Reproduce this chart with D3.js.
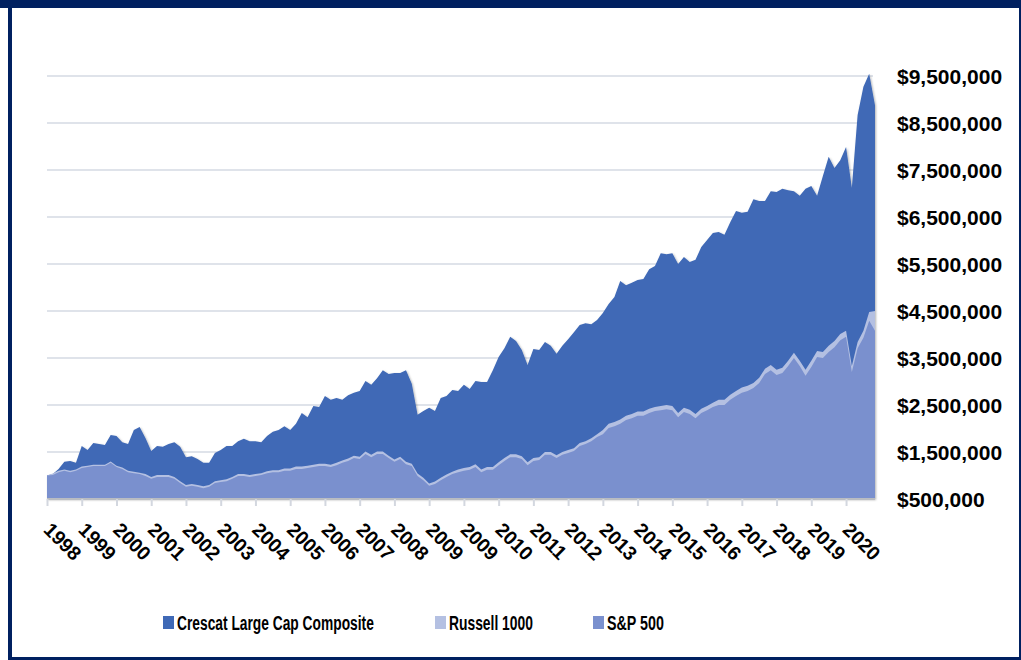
<!DOCTYPE html>
<html>
<head>
<meta charset="utf-8">
<script src="https://cdn.jsdelivr.net/npm/d3@7/dist/d3.min.js"></script>
<style>
body{margin:0;background:#fff;}
</style>
</head>
<body>
<div id="chart"></div>
<script>
// growth of $1M, values in $ millions, one point every 2 months from Jan 1998
var crescat = [1.00,1.03,1.14,1.29,1.31,1.27,1.63,1.54,1.69,1.67,1.65,1.86,1.84,1.71,1.67,1.97,2.03,1.80,1.52,1.63,
    1.61,1.67,1.71,1.61,1.39,1.41,1.35,1.27,1.27,1.48,1.54,1.63,1.63,1.73,1.78,1.73,1.73,1.71,1.84,1.93,
    1.97,2.05,1.97,2.10,2.33,2.24,2.48,2.46,2.69,2.61,2.65,2.61,2.71,2.76,2.80,3.01,2.93,3.07,3.24,3.16,
    3.18,3.18,3.24,2.95,2.29,2.37,2.44,2.37,2.65,2.69,2.82,2.80,2.93,2.84,3.01,2.99,2.99,3.24,3.52,3.71,
    3.95,3.86,3.67,3.35,3.69,3.67,3.84,3.76,3.59,3.76,3.90,4.05,4.20,4.24,4.22,4.31,4.46,4.65,4.80,5.14,
    5.05,5.10,5.16,5.18,5.39,5.46,5.73,5.71,5.73,5.50,5.65,5.54,5.59,5.86,6.01,6.16,6.18,6.12,6.39,6.63,
    6.59,6.61,6.88,6.84,6.84,7.05,7.03,7.10,7.07,7.05,6.95,7.10,7.16,6.95,7.37,7.78,7.54,7.71,7.99,7.12,
    8.67,9.27,9.55,8.88];
var russell = [1.00,1.04,1.10,1.13,1.10,1.13,1.19,1.21,1.23,1.23,1.23,1.30,1.21,1.17,1.10,1.08,1.06,1.03,0.97,1.01,
    1.01,1.01,0.97,0.88,0.80,0.82,0.80,0.77,0.80,0.88,0.90,0.92,0.97,1.03,1.03,1.01,1.03,1.05,1.09,1.11,
    1.11,1.15,1.15,1.19,1.19,1.21,1.23,1.25,1.25,1.23,1.27,1.32,1.36,1.42,1.40,1.51,1.44,1.51,1.51,1.42,
    1.34,1.40,1.29,1.25,1.04,0.95,0.83,0.87,0.95,1.02,1.08,1.13,1.16,1.18,1.24,1.13,1.18,1.18,1.28,1.37,
    1.45,1.45,1.41,1.28,1.37,1.39,1.50,1.50,1.43,1.50,1.54,1.58,1.69,1.73,1.79,1.88,1.97,2.10,2.14,2.19,
    2.27,2.31,2.36,2.36,2.42,2.46,2.48,2.50,2.48,2.33,2.44,2.40,2.31,2.42,2.48,2.55,2.61,2.61,2.72,2.80,
    2.87,2.91,2.97,3.08,3.27,3.35,3.25,3.29,3.44,3.61,3.44,3.25,3.44,3.65,3.63,3.76,3.86,4.01,4.08,3.33,
    3.84,4.08,4.48,4.50];
var sp500 = [1.00,1.01,1.07,1.10,1.07,1.10,1.16,1.18,1.20,1.20,1.20,1.27,1.18,1.14,1.07,1.05,1.03,0.99,0.93,0.97,
    0.97,0.97,0.93,0.84,0.76,0.78,0.76,0.73,0.76,0.84,0.86,0.88,0.93,0.99,0.99,0.97,0.99,1.01,1.05,1.07,
    1.07,1.10,1.10,1.14,1.14,1.16,1.18,1.20,1.20,1.18,1.22,1.27,1.31,1.37,1.35,1.46,1.39,1.46,1.46,1.37,
    1.29,1.35,1.24,1.20,0.99,0.90,0.78,0.82,0.90,0.97,1.03,1.07,1.10,1.12,1.18,1.07,1.12,1.12,1.22,1.31,
    1.39,1.39,1.35,1.22,1.31,1.33,1.44,1.44,1.37,1.44,1.48,1.52,1.63,1.67,1.73,1.82,1.88,2.01,2.05,2.10,
    2.18,2.22,2.27,2.27,2.33,2.37,2.39,2.41,2.39,2.24,2.35,2.31,2.22,2.33,2.39,2.46,2.50,2.50,2.61,2.69,
    2.76,2.80,2.86,2.97,3.16,3.24,3.14,3.18,3.33,3.50,3.33,3.12,3.31,3.52,3.50,3.63,3.73,3.88,3.95,3.20,
    3.71,3.93,4.29,4.08];
var stepMonths = 2;
var yearLabels = ["1998","1999","2000","2001","2002","2003","2004","2005","2006","2007","2008","2009",
    "2009","2010","2011","2012","2013","2014","2015","2016","2017","2018","2019","2020"];
var tickMonths = [0,12,24,36,48,60,72,84,96,108,120,132,144,156,168,180,192,204,216,228,240,252,264,276];
var yTicks = [0.5,1.5,2.5,3.5,4.5,5.5,6.5,7.5,8.5,9.5];
var seriesNames = ["Crescat Large Cap Composite","Russell 1000","S&P 500"];
var seriesColors = ["#3f69b6","#b4c0e2","#7a90ce"];

var W = 1021, H = 660;
var svg = d3.select('#chart').append('svg')
    .attr('width', W)
    .attr('height', H);

var defs = svg.append('defs');
var f = defs.append('filter').attr('id','shadow').attr('x','-5%').attr('y','-5%').attr('width','110%').attr('height','110%');
f.append('feDropShadow').attr('dx',1).attr('dy',1).attr('stdDeviation',1.2)
    .attr('flood-color','#000').attr('flood-opacity',0.3);

var x = d3.scaleLinear().domain([0, 286]).range([47, 875]);
var y = d3.scaleLinear().domain([0.5, 9.5]).range([499, 76]);

// gridlines
svg.append('g').selectAll('line')
    .data(yTicks.slice(1))
    .enter().append('line')
    .attr('x1', 47).attr('x2', 873)
    .attr('y1', function(d){ return y(d); })
    .attr('y2', function(d){ return y(d); })
    .attr('stroke', '#dfe3ea')
    .attr('stroke-width', 2);

var area = d3.area()
    .x(function(d, i){ return x(i * stepMonths); })
    .y0(y(0.5))
    .y1(function(d){ return y(d); });

svg.append('path').datum(crescat).attr('d', area).attr('fill', seriesColors[0]).attr('filter','url(#shadow)');
svg.append('path').datum(russell).attr('d', area).attr('fill', seriesColors[1]);
svg.append('path').datum(sp500).attr('d', area).attr('fill', seriesColors[2]);

// x axis
var xAxis = d3.axisBottom(x)
    .tickValues(tickMonths)
    .tickSize(7)
    .tickFormat(function(d, k){ return yearLabels[k]; });

var gx = svg.append('g')
    .attr('transform', 'translate(0,' + y(0.5) + ')')
    .call(xAxis);
gx.select('.domain').attr('stroke', '#b9bcc2').attr('stroke-width', 2).attr('d', 'M47,0H875');
gx.selectAll('.tick line').attr('stroke', '#d3d7df').attr('stroke-width', 2);
gx.selectAll('.tick text')
    .attr('fill', '#000')
    .attr('font-family', 'Liberation Sans, Arial, sans-serif')
    .attr('font-weight', 'bold')
    .attr('font-size', 19.5)
    .attr('text-anchor', 'start')
    .attr('y', null).attr('dy', null)
    .attr('transform', 'translate(-5,32) rotate(45)');

// y labels
svg.append('g').selectAll('text')
    .data(yTicks)
    .enter().append('text')
    .attr('x', 897)
    .attr('y', function(d){ return y(d) + 7.5; })
    .attr('font-family', 'Liberation Sans, Arial, sans-serif')
    .attr('font-weight', 'bold')
    .attr('font-size', 21)
    .attr('fill', '#000')
    .text(function(d){ return '$' + d3.format(',')(Math.round(d * 1000000)); });

// legend (text squeezed to look like the condensed original font)
var legX = [163, 435, 593];
var legW = [197, 84, 57];
var leg = svg.append('g').selectAll('g')
    .data(seriesNames)
    .enter().append('g')
    .attr('transform', function(d, i){ return 'translate(' + legX[i] + ',616)'; });
leg.append('rect').attr('width', 11).attr('height', 13)
    .attr('fill', function(d, i){ return seriesColors[i]; });
leg.append('text')
    .attr('font-family', 'Liberation Sans, Arial, sans-serif')
    .attr('font-weight', 'bold')
    .attr('font-size', 21)
    .text(function(d){ return d; })
    .attr('transform', function(d, i){
        var len = this.getComputedTextLength();
        return 'translate(14,13.5) scale(' + (legW[i] / len) + ',1)';
    });

// frame
var navy = '#002060';
svg.append('rect').attr('x', 0).attr('y', 0).attr('width', W).attr('height', 8).attr('fill', navy);
svg.append('rect').attr('x', 8).attr('y', 0).attr('width', 4).attr('height', H).attr('fill', navy);
svg.append('rect').attr('x', 1019).attr('y', 0).attr('width', 2).attr('height', H).attr('fill', navy);
svg.append('rect').attr('x', 8).attr('y', 657).attr('width', W - 8).attr('height', 3).attr('fill', navy);
</script>
</body>
</html>
